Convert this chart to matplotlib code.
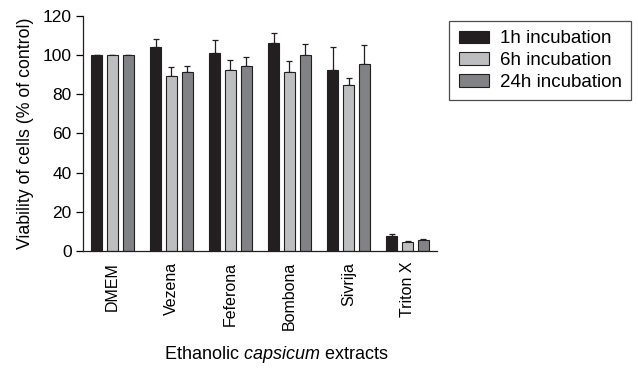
import matplotlib
matplotlib.use("Agg")
import matplotlib.pyplot as plt
import numpy as np

plt.rcParams['font.family'] = ['Liberation Sans', 'DejaVu Sans']
plt.rcParams['mathtext.fontset'] = 'custom'
plt.rcParams['mathtext.it'] = 'Liberation Sans:italic'
plt.rcParams['mathtext.rm'] = 'Liberation Sans'

categories = ["DMEM", "Vezena", "Feferona", "Bombona", "Sivrija", "Triton X"]
series_names = ["1h incubation", "6h incubation", "24h incubation"]
vals_1h = [100, 104, 101, 106, 92.3, 7.5]
vals_6h = [100, 89.4, 92.3, 91.4, 84.6, 4.3]
vals_24h = [100, 91.4, 94.5, 100.1, 95.3, 5.5]
err_1h = [0, 4.0, 6.7, 5.3, 11.7, 0.9]
err_6h = [0, 4.6, 5.4, 5.5, 3.8, 0.8]
err_24h = [0, 3.0, 4.6, 5.6, 9.7, 0.7]
colors = ["#231f20", "#bcbec0", "#808285"]
yticks = [0, 20, 40, 60, 80, 100, 120]

fig = plt.figure(figsize=(6.38, 3.70), dpi=100)
ax = fig.add_axes([0.130, 0.322, 0.555, 0.635])

x = np.arange(len(categories))
width = 0.18
offsets = [-0.27, 0.0, 0.27]
for vals, errs, col, name, off in zip([vals_1h, vals_6h, vals_24h],
                                      [err_1h, err_6h, err_24h],
                                      colors, series_names, offsets):
    ax.bar(x + off, vals, width, color=col, edgecolor="#231f20", linewidth=0.8,
           label=name, zorder=2)
    ax.errorbar(x + off, vals, yerr=[np.zeros(len(errs)), errs], fmt="none",
                ecolor="#231f20", elinewidth=0.9, capsize=2.5, capthick=0.9, zorder=1)

ax.set_xlim(-0.5, 5.5)
ax.set_ylim(0, 120)
ax.set_yticks(yticks)
ax.set_xticks(x)
ax.set_xticklabels(categories, rotation=90, fontsize=11.5)
ax.tick_params(axis="x", length=0, pad=8)
ax.tick_params(axis="y", labelsize=12.5, length=5, width=0.9, direction="out", pad=3)
for s in ["top", "right"]:
    ax.spines[s].set_visible(False)
for s in ["left", "bottom"]:
    ax.spines[s].set_linewidth(0.9)
    ax.spines[s].set_color("#231f20")

ax.set_ylabel("Viability of cells (% of control)", fontsize=12.8, labelpad=6)
fig.text(0.433, 0.03, "Ethanolic $\\it{capsicum}$ extracts", ha="center", fontsize=13)

leg = fig.legend(*ax.get_legend_handles_labels(), loc="upper left",
                 bbox_to_anchor=(0.704, 0.943), frameon=True,
                 fancybox=False, fontsize=13.5, handlelength=1.6, handleheight=0.65,
                 borderpad=0.5, labelspacing=0.25, handletextpad=0.6,
                 borderaxespad=0.0)
leg.get_frame().set_edgecolor("#231f20")
leg.get_frame().set_linewidth(0.9)

fig.savefig("out.png", dpi=100)
